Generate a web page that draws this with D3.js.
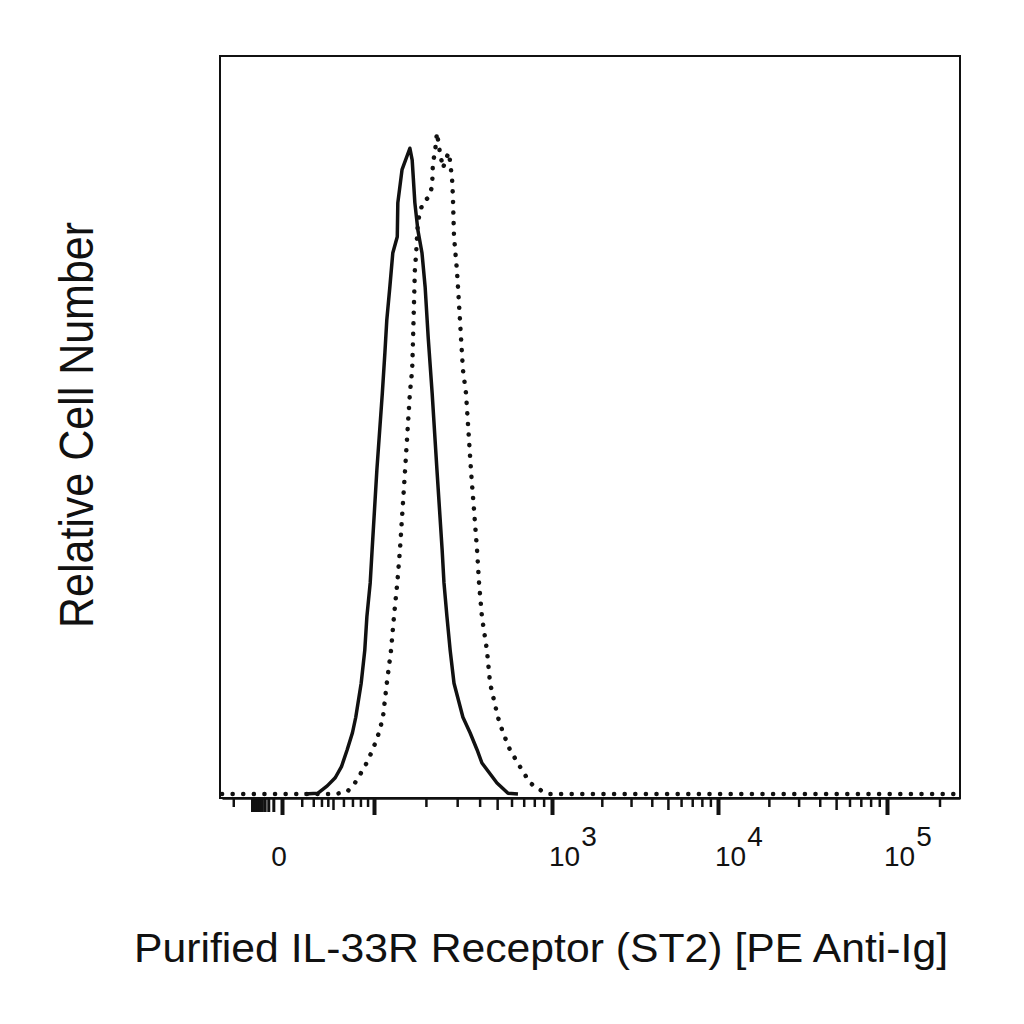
<!DOCTYPE html>
<html>
<head>
<meta charset="utf-8">
<script src="https://cdn.jsdelivr.net/npm/d3@7/dist/d3.min.js"></script>
<style>
  html, body { margin: 0; padding: 0; background: #fff; }
  svg { display: block; }
  text { font-family: "Liberation Sans", Arial, Helvetica, sans-serif; fill: #111; }
</style>
</head>
<body>
<svg id="chart" width="1024" height="1024"></svg>
<script>
// ---------------- DATA ----------------
// Solid histogram (control) : fluorescence value, relative cell number
const controlX = [12, 25, 39, 52, 58, 64, 70, 74, 81, 86, 89, 94, 97, 104, 112, 116, 119, 124, 129, 137, 138, 146, 162,
                  167, 173, 180, 190, 198, 206, 217, 231, 247, 253, 263, 274, 288, 323, 354, 387, 412, 499, 574, 651];
const controlY = [0, 0.1, 1.1, 2.2, 3.7, 6.0, 8.3, 10.4, 15.0, 19.5, 24.0, 28.6, 33.1, 43.9, 54.3, 59.8, 64.2, 68.7, 73.3, 75.5, 80.1, 84.6, 87.5,
                  85.9, 80.1, 76.4, 73.3, 68.7, 61.9, 54.3, 43.9, 33.1, 28.6, 24.0, 19.5, 15.0, 10.4, 8.3, 6.0, 4.2, 1.5, 0.1, 0];

// Dotted histogram (Purified IL-33R / ST2 + PE anti-Ig)
const st2X = [-300, 52, 64, 73, 86, 98, 107, 113, 119, 126, 131, 137, 142, 152, 162, 167, 169, 171, 173, 176, 178, 180, 185, 193,
              206, 217, 219, 225, 231, 240, 250, 260, 270, 281, 284, 288, 299, 307, 315, 323, 336, 358, 387, 397, 412,
              439, 457, 505, 539, 588, 668, 758, 893, 975, 262144];
const st2Y = [0, 0, 0.3, 1.5, 3.7, 6.0, 8.3, 10.4, 15.0, 19.5, 24.0, 28.6, 33.1, 43.9, 54.3, 57.5, 61.9, 66.5, 71.0, 73.3, 75.5, 77.4, 78.9, 80.2,
              80.8, 82.3, 85.5, 86.9, 89.6, 86.9, 84.8, 86.2, 86.9, 83.3, 80.9, 75.5, 71.0, 66.5, 61.9, 57.5, 54.3, 43.9, 33.1, 28.6, 24.0,
              19.5, 15.0, 10.4, 8.3, 6.0, 3.7, 1.5, 0.3, 0, 0];

// Axis tick values
const majorTicks = [0, 100, 1000, 10000, 100000];
const negativeTicks = [-100, -90, -80, -70, -60, -50, -40, -30, -20, -10];
const mediumTicks = [50, 500, 5000, 50000];
const minorTicks = [-200,
                    10, 20, 30, 40, 60, 70, 80, 90,
                    200, 300, 400, 600, 700, 800, 900,
                    2000, 3000, 4000, 6000, 7000, 8000, 9000,
                    20000, 30000, 40000, 60000, 70000, 80000, 90000, 200000];
const tickLabels = [
  { value: 0, base: "0", exp: "" },
  { value: 1000, base: "10", exp: "3" },
  { value: 10000, base: "10", exp: "4" },
  { value: 100000, base: "10", exp: "5" }
];
const xTitle = "Purified IL-33R Receptor (ST2) [PE Anti-Ig]";
const yTitle = "Relative Cell Number";

// ---------------- LAYOUT ----------------
const svg = d3.select("#chart");
const plot = { left: 220, top: 56, right: 960, bottom: 798 };
const baseY = 794;

// biexponential-like display: symlog with piecewise stops
const x = d3.scaleSymlog().constant(10)
  .domain([-300, -100, 0, 50, 100, 1000, 10000, 100000, 262144])
  .range([222, 252, 282, 333, 374, 552, 718, 887, 960]);
const y = d3.scaleLinear().domain([0, 100]).range([baseY, plot.top]);

// frame
svg.append("rect")
  .attr("x", plot.left).attr("y", plot.top)
  .attr("width", plot.right - plot.left).attr("height", plot.bottom - plot.top)
  .attr("fill", "none").attr("stroke", "#111").attr("stroke-width", 2);

// axes (several tick levels)
function tickAxis(values, size, width, withDomain) {
  const g = svg.append("g").attr("transform", `translate(0,${plot.bottom})`)
    .call(d3.axisBottom(x).tickValues(values).tickSize(size).tickSizeOuter(0).tickFormat(""));
  g.selectAll(".tick line").attr("stroke", "#111").attr("stroke-width", width);
  if (withDomain) g.select(".domain").attr("stroke", "#111").attr("stroke-width", 2.5);
  else g.select(".domain").remove();
  return g;
}
tickAxis(minorTicks, 9, 2.5, false);
tickAxis(negativeTicks, 14, 3, false);
tickAxis(mediumTicks, 12, 2.5, false);
tickAxis(majorTicks, 17, 4, true);

// tick labels
tickLabels.forEach(d => {
  const t = svg.append("text")
    .attr("y", 866)
    .attr("font-size", 28);
  if (d.exp === "") {
    t.attr("x", x(d.value) - 3).attr("text-anchor", "middle").text(d.base);
  } else {
    t.attr("x", x(d.value) - 3).attr("text-anchor", "start");
    t.append("tspan").text(d.base);
    t.append("tspan").attr("font-size", 28).attr("dy", -20).attr("dx", 1).text(d.exp);
  }
});

// curves
const line = d3.line().x(d => x(d[0])).y(d => y(d[1]));
const ctrl = controlX.map((v, i) => [v, controlY[i]]);
const st2 = st2X.map((v, i) => [v, st2Y[i]]);

svg.append("path").datum(st2)
  .attr("d", line)
  .attr("fill", "none").attr("stroke", "#111")
  .attr("stroke-width", 4.5).attr("stroke-linecap", "round")
  .attr("stroke-dasharray", "0.1 10.5");

svg.append("path").datum(ctrl)
  .attr("d", line)
  .attr("fill", "none").attr("stroke", "#111")
  .attr("stroke-width", 3.5).attr("stroke-linejoin", "round");

// titles
svg.append("text")
  .attr("x", 134).attr("y", 962)
  .attr("font-size", 41)
  .attr("textLength", 814).attr("lengthAdjust", "spacingAndGlyphs")
  .text(xTitle);

svg.append("text")
  .attr("transform", "translate(93,425) rotate(-90)")
  .attr("text-anchor", "middle")
  .attr("font-size", 48)
  .attr("textLength", 406).attr("lengthAdjust", "spacingAndGlyphs")
  .text(yTitle);
</script>
</body>
</html>
